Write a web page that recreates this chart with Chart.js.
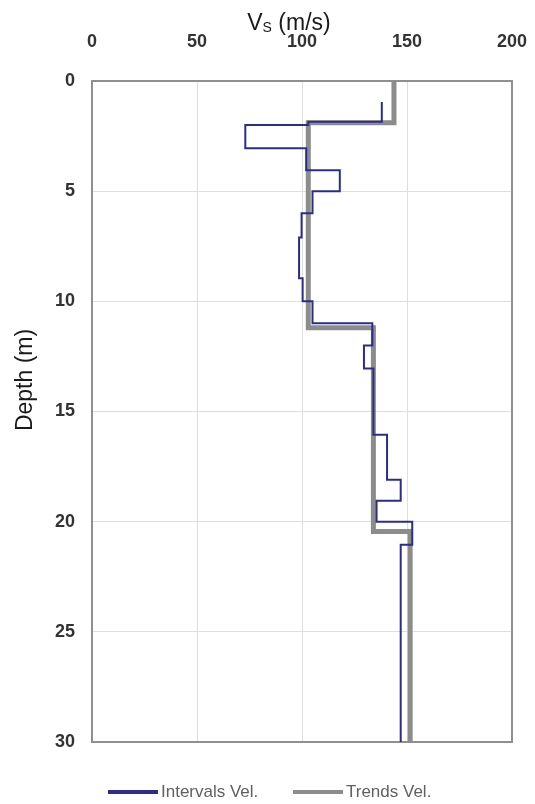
<!DOCTYPE html>
<html>
<head>
<meta charset="utf-8">
<script src="https://cdn.jsdelivr.net/npm/chart.js@4.4.1/dist/chart.umd.min.js"></script>
<style>
  html, body { margin: 0; padding: 0; background: #ffffff; }
  #wrap { width: 535px; height: 804px; }
</style>
</head>
<body>
<div id="wrap"><canvas id="c" width="535" height="804"></canvas></div>
<script>
// Interval velocities: layer boundaries (m) and Vs of each layer (m/s)
const intervalDepths = [0.95, 1.85, 2.0, 3.05, 4.05, 5.0, 6.0, 7.1, 8.95, 10.0, 11.0, 12.0, 13.05, 16.05, 18.1, 19.05, 20.0, 21.05, 30];
const intervalVs     = [138, 103, 73, 102, 118, 105, 99.8, 98.6, 100.3, 105, 133.5, 129.5, 134, 140.5, 147, 135.5, 152.5, 147];

// Trend velocities: layer boundaries (m) and Vs of each layer (m/s)
const trendDepths = [0, 1.9, 11.2, 20.45, 30];
const trendVs     = [143.8, 103, 134, 151.5];

// Axis ranges and tick spacing
const vsRange = [0, 200];
const vsStep = 50;
const depthRange = [0, 30];
const depthStep = 5;

const seriesNames = ['Intervals Vel.', 'Trends Vel.'];

// Turn layer boundaries + velocities into a step profile (Vs, depth)
function stepProfile(depths, vs) {
  const pts = [];
  for (let i = 0; i < vs.length; i++) {
    pts.push({ x: vs[i], y: depths[i] });
    pts.push({ x: vs[i], y: depths[i + 1] });
  }
  return pts;
}

const BLUE = '#2c2c8a';
const GREY = '#8c8c8c';
const FONT = "'Liberation Sans', Arial, sans-serif";

// Frame round the plotting area
const plotFrame = {
  id: 'plotFrame',
  beforeDatasetsDraw(chart) {
    const { ctx, chartArea: a } = chart;
    ctx.save();
    ctx.strokeStyle = '#8f8f8f';
    ctx.lineWidth = 2;
    ctx.strokeRect(a.left, a.top, a.right - a.left, a.bottom - a.top);
    ctx.restore();
  }
};

// Axis titles (Vs with subscript S) and the legend underneath
const annotations = {
  id: 'annotations',
  afterDraw(chart) {
    const { ctx } = chart;
    ctx.save();
    ctx.fillStyle = '#1a1a1a';
    ctx.textBaseline = 'alphabetic';
    ctx.textAlign = 'left';

    // top title
    const big = '23px ' + FONT, small = '14px ' + FONT;
    ctx.font = big; const wV = ctx.measureText('V').width;
    ctx.font = small; const wS = ctx.measureText('S').width;
    ctx.font = big; const wRest = ctx.measureText(' (m/s)').width;
    let x = 289 - (wV + wS + wRest) / 2;
    ctx.font = big; ctx.fillText('V', x, 30); x += wV;
    ctx.font = small; ctx.fillText('S', x, 32); x += wS;
    ctx.font = big; ctx.fillText(' (m/s)', x, 30);

    // left title
    ctx.save();
    ctx.translate(32, 380);
    ctx.rotate(-Math.PI / 2);
    ctx.textAlign = 'center';
    ctx.font = '23px ' + FONT;
    ctx.fillText('Depth (m)', 0, 0);
    ctx.restore();

    // legend
    const ly = 792;
    const items = [
      { x0: 108, ds: chart.data.datasets[0] },
      { x0: 293, ds: chart.data.datasets[1] }
    ];
    ctx.font = '17px ' + FONT;
    ctx.textBaseline = 'middle';
    items.forEach(it => {
      ctx.strokeStyle = it.ds.borderColor;
      ctx.lineWidth = 4;
      ctx.beginPath();
      ctx.moveTo(it.x0, ly);
      ctx.lineTo(it.x0 + 50, ly);
      ctx.stroke();
      ctx.fillStyle = '#606060';
      ctx.fillText(it.ds.label, it.x0 + 53, ly);
    });
    ctx.restore();
  }
};

new Chart(document.getElementById('c'), {
  type: 'scatter',
  data: {
    datasets: [
      {
        label: seriesNames[0],
        data: stepProfile(intervalDepths, intervalVs),
        showLine: true,
        borderColor: BLUE,
        backgroundColor: BLUE,
        borderWidth: 2,
        pointRadius: 0,
        tension: 0
      },
      {
        label: seriesNames[1],
        data: stepProfile(trendDepths, trendVs),
        showLine: true,
        borderColor: GREY,
        backgroundColor: GREY,
        borderWidth: 5,
        pointRadius: 0,
        tension: 0
      }
    ]
  },
  options: {
    responsive: false,
    animation: false,
    devicePixelRatio: 1,
    layout: { padding: { top: 0, left: 0, right: 23, bottom: 62 } },
    plugins: {
      legend: { display: false },
      tooltip: { enabled: false }
    },
    scales: {
      x: {
        type: 'linear',
        position: 'top',
        min: vsRange[0],
        max: vsRange[1],
        ticks: {
          stepSize: vsStep,
          padding: 0,
          color: '#333333',
          font: { family: FONT, size: 18, weight: 'bold' }
        },
        grid: { color: '#dedede', lineWidth: 1, drawTicks: true, tickLength: 28, tickColor: 'rgba(0,0,0,0)' },
        border: { display: false },
        afterFit(scale) { scale.height = 81; }
      },
      y: {
        type: 'linear',
        reverse: true,
        min: depthRange[0],
        max: depthRange[1],
        ticks: {
          stepSize: depthStep,
          padding: 17,
          color: '#333333',
          font: { family: FONT, size: 18, weight: 'bold' }
        },
        grid: { color: '#dedede', lineWidth: 1, drawTicks: false },
        border: { display: false },
        afterFit(scale) { scale.width = 92; }
      }
    }
  },
  plugins: [plotFrame, annotations]
});
</script>
</body>
</html>
